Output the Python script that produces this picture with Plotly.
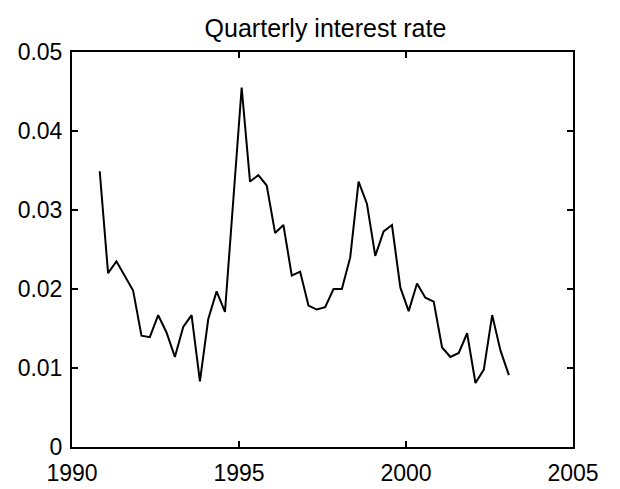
import plotly.graph_objects as go

# Quarterly observation dates (decimal years)
quarters = [
    1990.83, 1991.08, 1991.33, 1991.58, 1991.83, 1992.08, 1992.33, 1992.58,
    1992.83, 1993.08, 1993.33, 1993.58, 1993.83, 1994.08, 1994.33, 1994.58,
    1994.83, 1995.08, 1995.33, 1995.58, 1995.83, 1996.08, 1996.33, 1996.58,
    1996.83, 1997.08, 1997.33, 1997.58, 1997.83, 1998.08, 1998.33, 1998.58,
    1998.83, 1999.08, 1999.33, 1999.58, 1999.83, 2000.08, 2000.33, 2000.58,
    2000.83, 2001.08, 2001.33, 2001.58, 2001.83, 2002.08, 2002.33, 2002.58,
    2002.83, 2003.08,
]

# Quarterly interest rate
rate = [
    0.0349, 0.0220, 0.0235, 0.0216, 0.0198, 0.0141, 0.0139, 0.0167,
    0.0145, 0.0114, 0.0152, 0.0167, 0.0083, 0.0162, 0.0197, 0.0171,
    0.0312, 0.0455, 0.0336, 0.0344, 0.0331, 0.0271, 0.0281, 0.0217,
    0.0222, 0.0179, 0.0174, 0.0177, 0.0200, 0.0200, 0.0240, 0.0336,
    0.0308, 0.0242, 0.0273, 0.0281, 0.0202, 0.0172, 0.0207, 0.0189,
    0.0184, 0.0126, 0.0114, 0.0119, 0.0144, 0.0081, 0.0098, 0.0167,
    0.0122, 0.0091,
]

x_ticks = [1990, 1995, 2000, 2005]
y_ticks = [0, 0.01, 0.02, 0.03, 0.04, 0.05]
y_tick_labels = ["0", "0.01", "0.02", "0.03", "0.04", "0.05"]

font_family = "Liberation Sans, Arial, sans-serif"

fig = go.Figure(
    go.Scatter(
        x=quarters,
        y=rate,
        mode="lines",
        line=dict(color="black", width=2),
        hoverinfo="skip",
    )
)

axis_common = dict(
    showline=True,
    linecolor="black",
    linewidth=2,
    mirror="allticks",
    ticks="inside",
    ticklen=6,
    tickwidth=2,
    tickcolor="black",
    showgrid=False,
    zeroline=False,
    automargin=False,
    tickfont=dict(family=font_family, size=23, color="black"),
)

fig.update_xaxes(
    range=[1990, 2005],
    tickmode="array",
    tickvals=x_ticks,
    ticktext=[str(t) for t in x_ticks],
    ticklabelstandoff=4,
    **axis_common,
)
fig.update_yaxes(
    range=[0, 0.05],
    tickmode="array",
    tickvals=y_ticks,
    ticktext=y_tick_labels,
    ticklabelstandoff=3,
    **axis_common,
)

fig.update_layout(
    width=620,
    height=489,
    margin=dict(l=72, r=47, t=52, b=42),
    paper_bgcolor="white",
    plot_bgcolor="white",
    showlegend=False,
    title=dict(
        text="Quarterly interest rate",
        x=0.525,
        xanchor="center",
        y=0.925,
        yanchor="bottom",
        yref="container",
        font=dict(family=font_family, size=25, color="black"),
    ),
)

fig.write_html("out.html")
